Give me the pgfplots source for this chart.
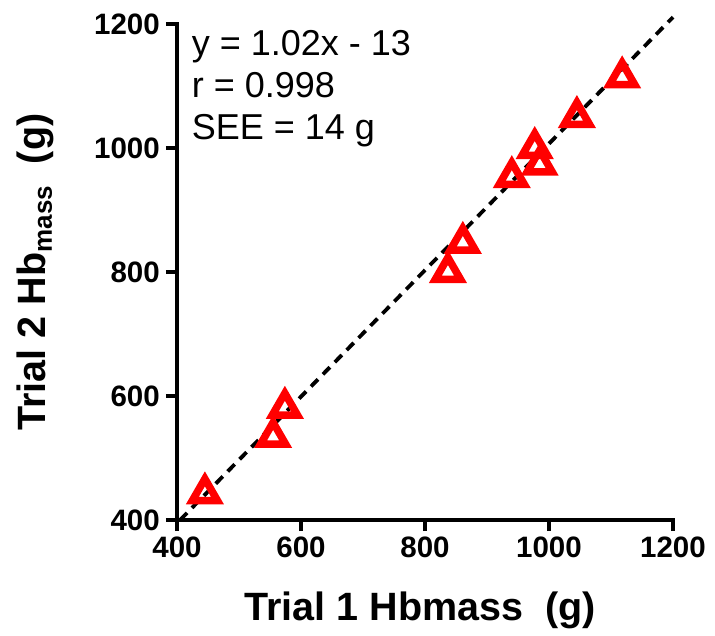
\documentclass[border=0pt]{standalone}
\usepackage{fontspec}
\setmainfont{Liberation Sans}
\usepackage{pgfplots}
\pgfplotsset{compat=1.18}
\begin{document}
\begin{tikzpicture}
\path[use as bounding box] (-177bp,-116bp) rectangle (538bp,520bp);
\begin{axis}[
  scale only axis, width=496bp, height=496bp,
  xmin=400, xmax=1200, ymin=400, ymax=1200,
  axis lines*=left,
  every axis/.append style={line width=3.8bp},
  axis line style={line width=3.8bp, line cap=rect},
  xtick={400,600,800,1000,1200}, ytick={400,600,800,1000,1200},
  tick align=outside, major tick length=11bp,
  tick style={line width=3.8bp, black},
  /pgf/number format/assume math mode=true,
  /pgf/number format/1000 sep={},
  ticklabel style={font=\fontsize{29.5bp}{32bp}\selectfont\bfseries},
  xticklabel style={yshift=-1bp},
  yticklabel style={xshift=-1bp},
  xlabel={Trial 1 Hbmass\ \ (g)},
  ylabel={Trial 2 Hb\raisebox{-6bp}{\fontsize{26bp}{27bp}\selectfont mass}\ \ (g)},
  label style={font=\fontsize{39.5bp}{42bp}\selectfont\bfseries},
  xlabel style={at={(axis description cs:0.49,0)}, anchor=base, yshift=-100bp},
  ylabel style={at={(axis description cs:-0.285,0.5)}, anchor=center},
  clip=false,
]
\addplot[black, line width=3.8bp, dash pattern=on 10bp off 7bp] coordinates {(405,400) (1200,1211)};
\addplot[only marks, mark=triangle, mark size=14.5bp, red, mark options={line width=7.5bp, red, solid}] coordinates {
(445,443) (555,534) (574,581) (837,800) (861,847) (940,953) (977,1000) (985,973) (1045,1050) (1118,1114)
};
\node[anchor=base west, font=\fontsize{36bp}{38bp}\selectfont, inner sep=0pt] at (axis cs:421,1150) {y = 1.02x - 13};
\node[anchor=base west, font=\fontsize{36bp}{38bp}\selectfont, inner sep=0pt] at (axis cs:421,1082) {r = 0.998};
\node[anchor=base west, font=\fontsize{36bp}{38bp}\selectfont, inner sep=0pt] at (axis cs:421,1013) {SEE = 14 g};
\end{axis}
\end{tikzpicture}
\end{document}
